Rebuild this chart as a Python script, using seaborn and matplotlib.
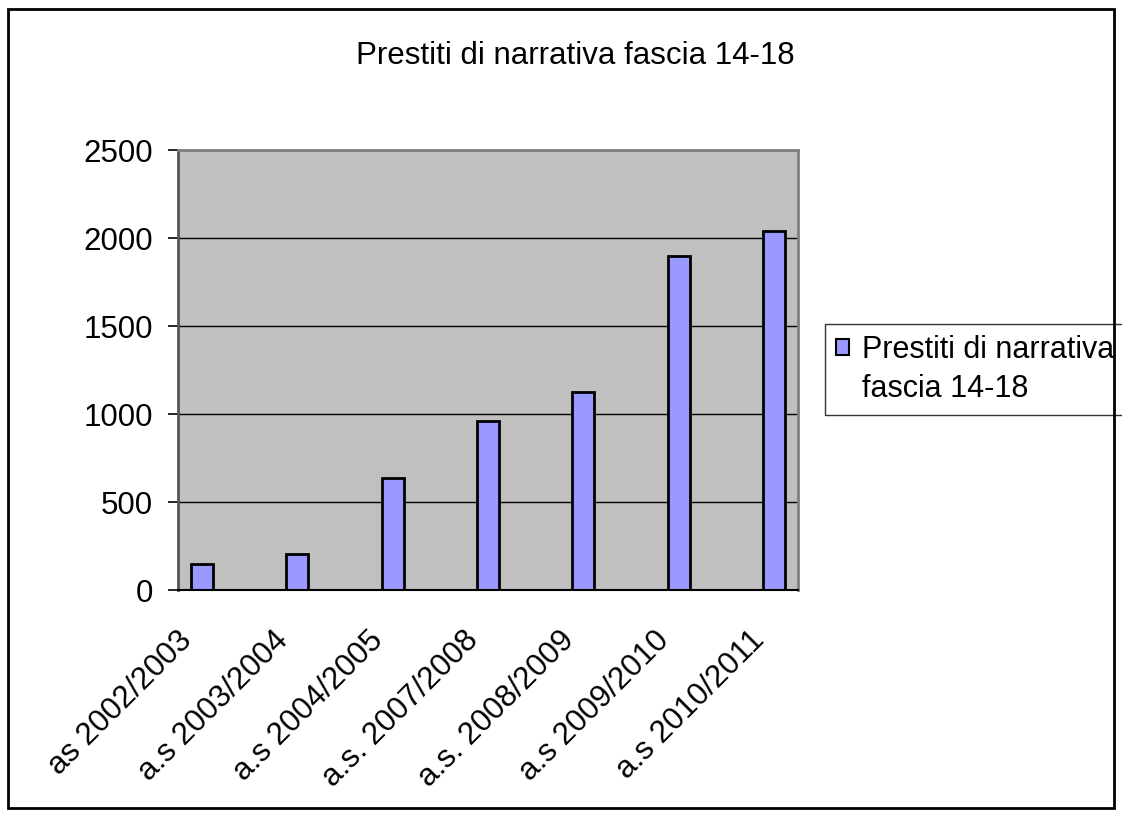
import matplotlib
matplotlib.use("Agg")
import numpy as np
import pandas as pd
import matplotlib.pyplot as plt
import seaborn as sns
from matplotlib.patches import Rectangle

# dati
anni = ["as 2002/2003", "a.s 2003/2004", "a.s 2004/2005", "a.s. 2007/2008",
        "a.s. 2008/2009", "a.s 2009/2010", "a.s 2010/2011"]
prestiti = [150, 205, 638, 960, 1125, 1895, 2040]
titolo = "Prestiti di narrativa fascia 14-18"
serie = "Prestiti di narrativa\nfascia 14-18"

sns.set_style("white")
plt.rcParams["font.family"] = ["Liberation Sans", "DejaVu Sans"]
plt.rcParams["text.color"] = "black"
plt.rcParams["xtick.labelcolor"] = "black"
plt.rcParams["ytick.labelcolor"] = "black"

FS = 22.5

df = pd.DataFrame({"anno": anni, "prestiti": prestiti})

# colonna vuota tra un anno e l'altro (come nel foglio originale)
ordine = []
for i, a in enumerate(anni):
    if i > 0:
        ordine.append(" " * i)
    ordine.append(a)

W, H = 1122, 816
fig = plt.figure(figsize=(W / 100, H / 100), dpi=100)
ax = fig.add_axes([178 / W, 1 - 590 / H, 620 / W, 440 / H])

sns.barplot(data=df, x="anno", y="prestiti", order=ordine, width=0.46,
            color="#9999FF", saturation=1, edgecolor="black", linewidth=2,
            label=serie, ax=ax)

ax.set_facecolor("#C0C0C0")
ax.set_xlim(-0.5, len(ordine) - 0.5)
ax.set_ylim(0, 2500)
ax.set_yticks(range(0, 2501, 500))
ax.set_xlabel("")
ax.set_ylabel("")
ax.set_axisbelow(True)
ax.yaxis.grid(True, color="black", lw=1)
ax.xaxis.grid(False)

# etichette ruotate a 45 gradi, scritte a mano per spostarle come in Excel
ax.set_xticks(range(len(ordine)))
ax.set_xticklabels([""] * len(ordine))
for i, nome in enumerate(ordine):
    if nome.strip():
        ax.annotate(nome, xy=(i, 0), xycoords=("data", "axes fraction"),
                    xytext=(-10, -33), textcoords="offset points",
                    rotation=45, ha="right", va="center",
                    rotation_mode="anchor", fontsize=FS)
ax.set_xticks(np.arange(-0.5, len(ordine), 1), minor=True)
ax.tick_params(axis="x", which="major", length=0)
ax.tick_params(axis="x", which="minor", length=7, width=1.2, color="#555555",
               direction="out")
ax.tick_params(axis="y", length=7, width=1.2, color="black", direction="out",
               pad=11, labelsize=FS, left=True)

for lato in ["top", "right"]:
    ax.spines[lato].set_color("#808080")
    ax.spines[lato].set_linewidth(2)
ax.spines["left"].set_color("#555555")
ax.spines["left"].set_linewidth(2)
ax.spines["bottom"].set_color("black")
ax.spines["bottom"].set_linewidth(1.5)

# legenda: quadratino allineato alla prima riga
handles, labels = ax.get_legend_handles_labels()
riga1, riga2 = labels[0].split("\n")
vuoto = Rectangle((0, 0), 1, 1, visible=False)
leg = ax.legend([handles[0], vuoto], [riga1, riga2], loc="upper left",
                bbox_to_anchor=(825 / W, 1 - 324 / H),
                bbox_transform=fig.transFigure, frameon=True, fancybox=False,
                edgecolor="black", fontsize=22, handlelength=0.45,
                handleheight=0.45, handletextpad=0.4, borderpad=0.35,
                borderaxespad=0, labelspacing=0.3)
leg.get_frame().set_linewidth(1)
leg.legend_handles[0].set_linewidth(1.5)

fig.text(575 / W, 1 - 56 / H, titolo, ha="center", va="center", fontsize=FS)

fig.patches.append(Rectangle((8 / W, 8 / H), (1114 - 8) / W, (807 - 8) / H,
                             transform=fig.transFigure, fill=False,
                             edgecolor="black", lw=2))

fig.savefig("out.png", dpi=100)
